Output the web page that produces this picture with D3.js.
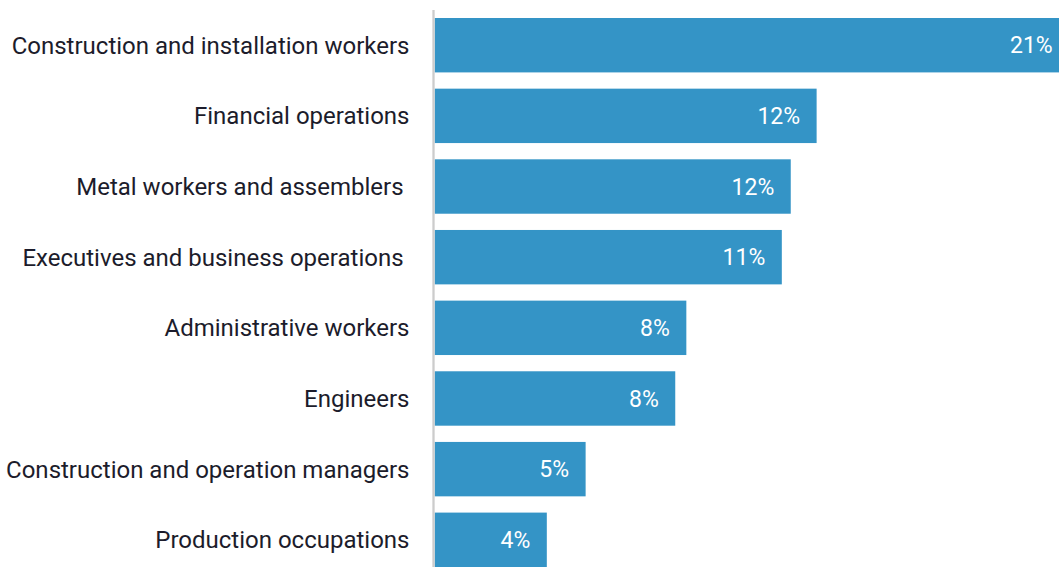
<!DOCTYPE html>
<html>
<head>
<meta charset="utf-8">
<script src="https://cdn.jsdelivr.net/npm/d3@7"></script>
<style>
  html, body { margin: 0; padding: 0; background: #ffffff; overflow: hidden; }
  svg { display: block; }
  text { font-family: Roboto, "Noto Sans", sans-serif; white-space: pre; }
</style>
</head>
<body>
<svg id="chart" width="1059" height="567"></svg>
<script>
// Share of openings by occupation group (percent)
const categories = [
  "Construction and installation workers",
  "Financial operations",
  "Metal workers and assemblers ",
  "Executives and business operations ",
  "Administrative workers",
  "Engineers",
  "Construction and operation managers",
  "Production occupations"
];
const shares = [20.6, 12.4, 11.56, 11.27, 8.17, 7.81, 4.9, 3.64];

const width = 1059, height = 567;
const axisX = 433.5;
const barStart = 434.7;
const barColor = "#3494c6";

const svg = d3.select("#chart");

const y = d3.scaleBand()
  .domain(categories)
  .range([18, 567])
  .paddingInner(0.23)
  .paddingOuter(0);

const x = d3.scaleLinear()
  .domain([0, d3.max(shares)])
  .range([barStart, barStart + d3.max(shares) * 30.8]);

const data = categories.map((c, i) => ({ category: c, value: shares[i] }));

// bars
svg.append("g")
  .selectAll("rect")
  .data(data)
  .join("rect")
  .attr("x", x(0))
  .attr("y", d => y(d.category))
  .attr("width", d => x(d.value) - x(0))
  .attr("height", y.bandwidth())
  .attr("fill", barColor);

// baseline
svg.append("line")
  .attr("x1", axisX).attr("x2", axisX)
  .attr("y1", 10).attr("y2", height)
  .attr("stroke", "#cccccc")
  .attr("stroke-width", 2.3);

// category labels
svg.append("g")
  .selectAll("text")
  .data(data)
  .join("text")
  .attr("x", 409.5)
  .attr("y", d => y(d.category) + y.bandwidth() / 2)
  .attr("dy", "0.35em")
  .attr("text-anchor", "end")
  .attr("fill", "#1c1c2b")
  .style("font-size", "24px")
  .text(d => d.category);

// value labels inside bar ends
svg.append("g")
  .selectAll("text")
  .data(data)
  .join("text")
  .attr("x", d => x(d.value) - 16.5)
  .attr("y", d => y(d.category) + y.bandwidth() / 2)
  .attr("dy", "0.35em")
  .attr("text-anchor", "end")
  .attr("fill", "#ffffff")
  .style("font-size", "23px")
  .text(d => Math.round(d.value) + "%");
</script>
</body>
</html>
